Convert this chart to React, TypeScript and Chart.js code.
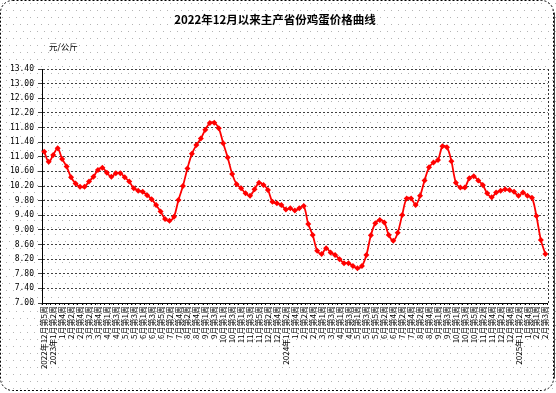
import React, { useEffect, useRef } from "react";
import { Chart, registerables } from "chart.js";

Chart.register(...registerables);

const TITLE = "2022年12月以来主产省份鸡蛋价格曲线";
const UNIT = "元/公斤";

const weeks2022 = ["2022年12月第5周"];
const weeks2023 = [
  "2023年1月第1周", "2023年1月第2周", "1月第3周", "1月第4周",
  "2月第1周", "2月第2周", "2月第3周", "2月第4周",
  "3月第1周", "3月第2周", "3月第3周", "3月第4周", "3月第5周",
  "4月第1周", "4月第2周", "4月第3周", "4月第4周",
  "5月第1周", "5月第2周", "5月第3周", "5月第4周",
  "6月第1周", "6月第2周", "6月第3周", "6月第4周", "6月第5周",
  "7月第1周", "7月第2周", "7月第3周", "7月第4周",
  "8月第1周", "8月第2周", "8月第3周", "8月第4周", "8月第5周",
  "9月第1周", "9月第2周", "9月第3周", "9月第4周",
  "10月第1周", "10月第2周", "10月第3周", "10月第4周",
  "11月第1周", "11月第2周", "11月第3周", "11月第4周", "11月第5周",
  "12月第1周", "12月第2周", "12月第3周", "12月第4周",
];
const weeks2024 = [
  "2024年1月第1周", "2024年1月第2周", "1月第3周", "1月第4周",
  "2月第1周", "2月第2周", "2月第3周", "2月第4周", "2月第5周",
  "3月第1周", "3月第2周", "3月第3周", "3月第4周",
  "4月第1周", "4月第2周", "4月第3周", "4月第4周",
  "5月第1周", "5月第2周", "5月第3周", "5月第4周", "5月第5周",
  "6月第1周", "6月第2周", "6月第3周", "6月第4周",
  "7月第1周", "7月第2周", "7月第3周", "7月第4周",
  "8月第1周", "8月第2周", "8月第3周", "8月第4周", "8月第5周",
  "9月第1周", "9月第2周", "9月第3周", "9月第4周",
  "10月第1周", "10月第2周", "10月第3周", "10月第4周", "10月第5周",
  "11月第1周", "11月第2周", "11月第3周", "11月第4周",
  "12月第1周", "12月第2周", "12月第3周", "12月第4周",
];
const weeks2025 = [
  "2025年1月第1周", "2025年1月第2周", "1月第3周", "1月第4周", "1月第5周",
  "2月第1周", "2月第2周", "2月第3周",
];
const categories = [...weeks2022, ...weeks2023, ...weeks2024, ...weeks2025];

const prices2022 = [11.14];
const prices2023 = [
  10.86, 11.05, 11.23, 10.94,
  10.73, 10.44, 10.27, 10.18,
  10.18, 10.32, 10.45, 10.64, 10.70,
  10.56, 10.45, 10.55, 10.55,
  10.44, 10.32, 10.14, 10.07,
  10.04, 9.95, 9.84, 9.68, 9.50,
  9.30, 9.25, 9.36, 9.82,
  10.20, 10.68, 11.08, 11.32, 11.50,
  11.74, 11.92, 11.93, 11.78,
  11.37, 10.98, 10.53, 10.25,
  10.14, 10.00, 9.93, 10.11, 10.29,
  10.23, 10.09, 9.77, 9.73,
];
const prices2024 = [
  9.68, 9.56, 9.59, 9.53,
  9.59, 9.65, 9.16, 8.86, 8.43,
  8.34, 8.50, 8.38, 8.31,
  8.20, 8.09, 8.09, 8.01,
  7.95, 8.01, 8.31, 8.85, 9.18,
  9.27, 9.20, 8.86, 8.70,
  8.92, 9.41, 9.86, 9.86,
  9.68, 9.93, 10.35, 10.71, 10.84,
  10.91, 11.29, 11.26, 10.88,
  10.29, 10.16, 10.16, 10.41, 10.47,
  10.35, 10.23, 10.00, 9.89,
  10.02, 10.07, 10.11, 10.09,
];
const prices2025 = [10.04, 9.93, 10.02, 9.93, 9.88, 9.38, 8.72, 8.34];
const prices = [...prices2022, ...prices2023, ...prices2024, ...prices2025];

const Y_MIN = 7.0;
const Y_MAX = 13.4;
const Y_STEP = 0.4;

const decor = {
  id: "decor",
  beforeDraw(chart: any) {
    const { ctx, width, height } = chart;
    ctx.save();
    ctx.fillStyle = "#ffffff";
    ctx.fillRect(0, 0, width, height);
    ctx.fillStyle = "#b4b4b4";
    let r = 0;
    for (let y = 3; y < height; y += 7, r++) {
      for (let x = r % 2 ? 6 : 2; x < width; x += 7) ctx.fillRect(x, y, 1, 1);
    }
    ctx.restore();
  },
  afterDraw(chart: any) {
    const { ctx, width, height, chartArea } = chart;
    ctx.save();
    ctx.strokeStyle = "#333";
    ctx.lineWidth = 1;
    ctx.setLineDash([2, 2]);
    ctx.beginPath();
    ctx.moveTo(Math.round(chartArea.right) + 0.5, chartArea.top);
    ctx.lineTo(Math.round(chartArea.right) + 0.5, chartArea.bottom);
    ctx.stroke();
    const r = 12;
    const x0 = 0.5, y0 = 0.5, x1 = width - 2.5, y1 = height - 2.5;
    ctx.strokeStyle = "#000";
    ctx.setLineDash([2, 2]);
    ctx.beginPath();
    ctx.moveTo(x0 + r, y0);
    ctx.lineTo(x1 - r, y0);
    ctx.arcTo(x1, y0, x1, y0 + r, r);
    ctx.lineTo(x1, y1 - r);
    ctx.arcTo(x1, y1, x1 - r, y1, r);
    ctx.lineTo(x0 + r, y1);
    ctx.arcTo(x0, y1, x0, y1 - r, r);
    ctx.lineTo(x0, y0 + r);
    ctx.arcTo(x0, y0, x0 + r, y0, r);
    ctx.stroke();
    ctx.setLineDash([]);
    ctx.strokeStyle = "#444";
    ctx.beginPath();
    ctx.moveTo(x1 + 1, y0 + r);
    ctx.lineTo(x1 + 1, y1 - r);
    ctx.stroke();
    ctx.fillStyle = "#000";
    ctx.textAlign = "center";
    ctx.textBaseline = "middle";
    ctx.font = "bold 11.5px 'Noto Sans CJK SC'";
    ctx.fillText(TITLE, 275, 20);
    ctx.textAlign = "left";
    ctx.font = "8.5px 'Noto Sans CJK SC'";
    ctx.fillText(UNIT, 49, 47);
    ctx.restore();
  },
};

export default function App() {
  const ref = useRef<HTMLCanvasElement | null>(null);
  useEffect(() => {
    if (!ref.current) return;
    const chart = new Chart(ref.current, {
      type: "line",
      data: {
        labels: categories,
        datasets: [
          {
            data: prices,
            borderColor: "#ff0000",
            backgroundColor: "#ff0000",
            borderWidth: 1.8,
            pointStyle: "rectRot",
            pointRadius: 3,
            pointBorderWidth: 0,
            pointBackgroundColor: "#ff0000",
            tension: 0.35,
            fill: false,
          },
        ],
      },
      options: {
        animation: false,
        responsive: false,
        devicePixelRatio: 1,
        layout: { padding: { top: 69, right: 8, left: 0, bottom: 0 } },
        plugins: {
          legend: { display: false },
          title: { display: false },
          tooltip: { enabled: false },
        },
        scales: {
          x: {
            type: "category",
            offset: true,
            grid: {
              display: true,
              drawOnChartArea: false,
              drawTicks: true,
              tickLength: 2,
              offset: true,
              color: "#000",
            },
            border: { display: true, color: "#000", width: 1 },
            ticks: {
              autoSkip: false,
              maxRotation: 90,
              minRotation: 90,
              padding: 1,
              color: "#000",
              font: { family: "'Noto Sans CJK SC'", size: 8 },
              callback: function (this: any, value: any, index: number) {
                return index % 2 === 0 ? categories[index] : "";
              },
            },
            afterFit(scale: any) {
              scale.height = 90;
            },
          },
          y: {
            min: Y_MIN,
            max: Y_MAX,
            grid: {
              color: "#404040",
              lineWidth: 1,
              tickLength: 4,
            },
            border: { display: true, color: "#000", width: 1, dash: [2, 2] },
            ticks: {
              stepSize: Y_STEP,
              padding: 4,
              color: "#000",
              font: { family: "'DejaVu Sans Mono'", size: 8 },
              callback: (v: any) => Number(v).toFixed(2),
            },
            afterFit(scale: any) {
              scale.width = 42;
            },
          },
        },
      },
      plugins: [decor],
    });
    return () => chart.destroy();
  }, []);
  return (
    <div style={{ position: "absolute", left: 0, top: 0, width: 556, height: 393 }}>
      <canvas ref={ref} width={556} height={393} />
    </div>
  );
}
